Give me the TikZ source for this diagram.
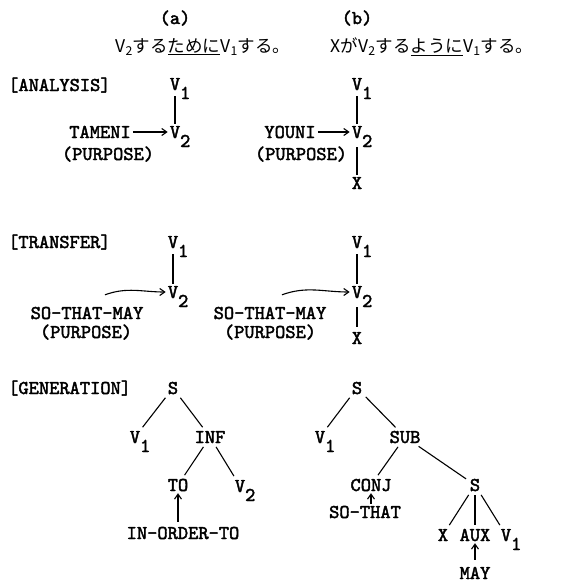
\documentclass[tikz,border=0pt]{standalone}
\usepackage{fontspec}
\newfontfamily\cjk{Noto Sans CJK JP}
\newfontfamily\tyfont[FakeBold=2.2]{lmmono10-regular.otf}
\usetikzlibrary{arrows.meta}

\newcommand{\Vs}[1]{V\rlap{\raisebox{-9pt}{#1}}}

\begin{document}
\begin{tikzpicture}[x=1pt,y=-1pt,
    every node/.style={font=\tyfont\fontsize{19.5}{22}\selectfont,
      text height=12pt, text depth=0pt, inner sep=2pt},
    jp/.style={font=\cjk\fontsize{17.5}{20}\selectfont, text height=15pt, text depth=4pt},
    br/.style={line width=1.1pt, shorten <=2pt, shorten >=2pt},
    tie/.style={line width=1.1pt, shorten <=4pt},
    arr/.style={line width=1.1pt, -{Straight Barb[length=5pt,width=7pt]}}]
  \useasboundingbox (0,0) rectangle (568,582);

  %% headings
  \node (hda) at (175,18) {(a)};
  \node (hdb) at (357,18) {(b)};
  \node[jp] (jpa) at (203,47) {V\textsubscript{2}する\underline{ために}V\textsubscript{1}する。};
  \node[jp] (jpb) at (432,47) {XがV\textsubscript{2}する\underline{ように}V\textsubscript{1}する。};

  %% analysis
  \node[anchor=west] (ana) at (6,85) {[ANALYSIS]};
  \node (v1a) at (175,84) {\Vs1};
  \node (v2a) at (175,132) {\Vs2};
  \node (tameni) at (100,132) {TAMENI};
  \node (purpa) at (108,154) {(PURPOSE)};
  \draw[tie] (v1a) -- (v2a);
  \draw[arr] (tameni) -- (v2a);

  \node (v1b) at (357,84) {\Vs1};
  \node (v2b) at (357,132) {\Vs2};
  \node (xb) at (357,183) {X};
  \node (youni) at (290,132) {YOUNI};
  \node (purpb) at (301,154) {(PURPOSE)};
  \draw[tie] (v1b) -- (v2b);
  \draw[tie, shorten <=7pt] (v2b) -- (xb);
  \draw[arr] (youni) -- (v2b);

  %% transfer
  \node[anchor=west] (tra) at (6,242) {[TRANSFER]};
  \node (v1c) at (173,242) {\Vs1};
  \node (v2c) at (173,292) {\Vs2};
  \node (stma) at (87,313) {SO-THAT-MAY};
  \node (purpc) at (86,332) {(PURPOSE)};
  \draw[tie] (v1c) -- (v2c);
  \draw[arr] ([shift={(18,-10)}]stma.north) to[out=20,in=180] (v2c);

  \node (v1d) at (357,242) {\Vs1};
  \node (v2d) at (357,292) {\Vs2};
  \node (xd) at (357,338) {X};
  \node (stmb) at (270,313) {SO-THAT-MAY};
  \node (purpd) at (270,332) {(PURPOSE)};
  \draw[tie] (v1d) -- (v2d);
  \draw[tie, shorten <=7pt, shorten >=3pt] (v2d) -- (xd);
  \draw[arr] ([shift={(12,-10)}]stmb.north) to[out=20,in=180] (v2d);

  %% generation
  \node[anchor=west] (gen) at (6,388) {[GENERATION]};
  \node (sa) at (173,388) {S};
  \node (v1e) at (135,437) {\Vs1};
  \node (inf) at (210,437) {INF};
  \node (to) at (178,485) {TO};
  \node (v2e) at (240,486) {\Vs2};
  \node (iot) at (183,533) {IN-ORDER-TO};
  \draw[br] (sa) -- (v1e);
  \draw[br] (sa) -- (inf);
  \draw[br] (inf) -- (to);
  \draw[br] (inf) -- (v2e);
  \draw[arr, shorten <=3pt] (iot.north -| to) -- (to);

  \node (sb) at (357,388) {S};
  \node (v1f) at (320,437) {\Vs1};
  \node (sub) at (405,437) {SUB};
  \node (conj) at (371,485) {CONJ};
  \node (sot) at (365,512) {SO-THAT};
  \node (s2) at (475,485) {S};
  \node (xg) at (443,535) {X};
  \node (aux) at (475,535) {AUX};
  \node (v1g) at (506,535) {\Vs1};
  \node (may) at (475,573) {MAY};
  \draw[br] (sb) -- (v1f);
  \draw[br] (sb) -- (sub);
  \draw[br] (sub) -- (conj);
  \draw[br] (sub) -- (s2);
  \draw[br] (s2) -- (xg);
  \draw[br] (s2) -- (aux);
  \draw[br] (s2) -- (v1g);
  \draw[arr] (sot.north -| conj) -- (conj);
  \draw[arr, shorten <=5pt] (may) -- (aux);
\end{tikzpicture}
\end{document}
